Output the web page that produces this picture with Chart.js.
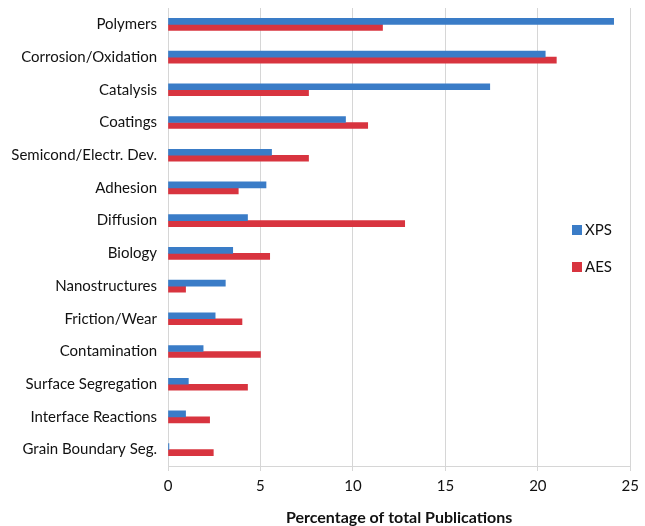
<!DOCTYPE html>
<html>
<head>
<meta charset="utf-8">
<script src="https://cdn.jsdelivr.net/npm/chart.js@4"></script>
<style>
  html, body { margin:0; padding:0; background:#fff; }
  #wrap { width:645px; height:526px; }
</style>
</head>
<body>
<div id="wrap"><canvas id="pubChart"></canvas></div>
<script>
const categories = ['Polymers','Corrosion/Oxidation','Catalysis','Coatings','Semicond/Electr. Dev.','Adhesion','Diffusion','Biology','Nanostructures','Friction/Wear','Contamination','Surface Segregation','Interface Reactions','Grain Boundary Seg.'];
const xps = [24.1, 20.4, 17.4, 9.6, 5.6, 5.3, 4.3, 3.5, 3.1, 2.55, 1.9, 1.1, 0.95, 0.05];
const aes = [11.6, 21.0, 7.6, 10.8, 7.6, 3.8, 12.8, 5.5, 0.95, 4.0, 5.0, 4.3, 2.25, 2.45];
const xTicks = [0, 5, 10, 15, 20, 25];

const FONT = 'Lato, "Open Sans", sans-serif';

// legend sits inside the plot, right side
const innerLegend = {
  id: 'innerLegend',
  afterDraw(chart) {
    const c = chart.ctx;
    c.save();
    c.font = '15px ' + FONT;
    c.textBaseline = 'middle';
    chart.data.datasets.forEach((ds, i) => {
      const y = 230 + i * 37;
      c.fillStyle = ds.backgroundColor;
      c.fillRect(572, y - 5, 10, 10);
      c.fillStyle = '#111';
      c.fillText(ds.label, 585, y);
    });
    c.restore();
  }
};

const ctx = document.getElementById('pubChart').getContext('2d');
new Chart(ctx, {
  type: 'bar',
  data: {
    labels: categories,
    datasets: [
      { label: 'XPS', data: xps, backgroundColor: '#3a7cc7', barThickness: 6 },
      { label: 'AES', data: aes, backgroundColor: '#d8343f', barThickness: 6 }
    ]
  },
  options: {
    indexAxis: 'y',
    responsive: true,
    maintainAspectRatio: false,
    animation: false,
    layout: { padding: { top: 8, right: 11, left: 0, bottom: 0 } },
    plugins: { legend: { display: false }, tooltip: { enabled: false } },
    scales: {
      x: {
        min: 0, max: 25,
        afterBuildTicks: s => { s.ticks = xTicks.map(v => ({ value: v })); },
        afterFit: s => { s.height = 60; },
        grid: { color: '#d6d6d6', tickLength: 5 },
        border: { color: '#d6d6d6' },
        ticks: { color: '#111', font: { family: FONT, size: 15 }, padding: 6 },
        title: { display: true, text: 'Percentage of total Publications', color: '#111',
                 font: { family: FONT, size: 16, weight: 'bold', lineHeight: 1 }, padding: { top: 12, bottom: 0 } }
      },
      y: {
        afterFit: s => { s.width = 168; s.paddingTop = 0; s.paddingBottom = 0; },
        grid: { display: false, drawTicks: false },
        border: { display: true, color: '#d6d6d6' },
        ticks: { color: '#111', font: { family: FONT, size: 15 }, padding: 11, autoSkip: false }
      }
    }
  },
  plugins: [innerLegend]
});
</script>
</body>
</html>
